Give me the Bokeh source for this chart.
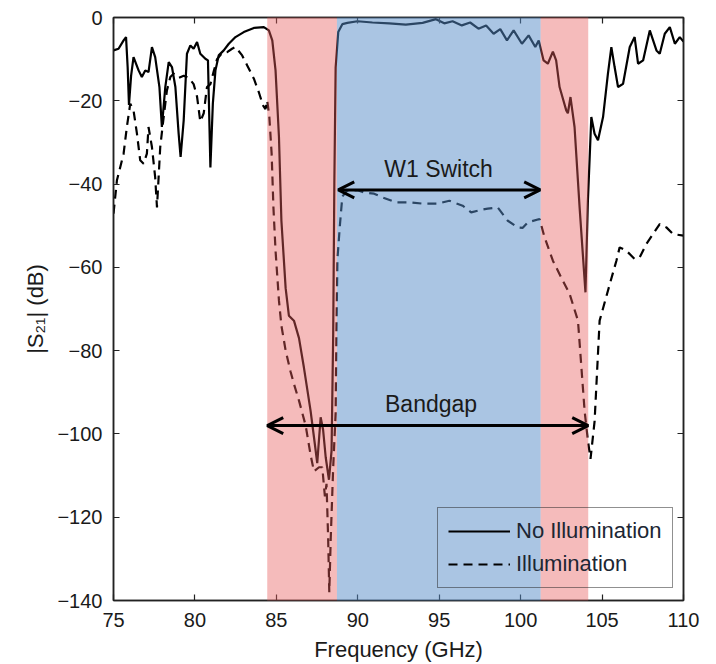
from bokeh.plotting import figure
from bokeh.models import (Range1d, LinearAxis, FixedTicker, Arrow, OpenHead, Label,
                          Legend, LegendItem, ColumnDataSource)
from bokeh.embed import file_html
from bokeh.resources import INLINE

# ---------------- data ----------------
freq_no_illum = [75.0, 75.31, 75.62, 75.77, 75.87, 75.95, 76.08, 76.23, 76.54, 76.74, 76.95, 77.15,
                 77.36, 77.56, 77.82, 77.97, 78.18, 78.39, 78.59, 78.80, 79.0, 79.12, 79.31, 79.51,
                 79.72, 79.92, 80.13, 80.33, 80.64, 80.80, 80.95, 81.10, 81.26, 81.46, 81.77, 82.08,
                 82.49, 83.0, 83.62, 84.23, 84.54, 84.75, 84.95, 85.16, 85.31, 85.57, 85.77, 86.08,
                 86.39, 86.69, 87.10, 87.31, 87.51, 87.72, 87.87, 88.03, 88.23, 88.39, 88.49, 88.56,
                 88.64, 88.80, 89.05, 89.36, 89.98, 90.90, 91.93, 92.95, 93.98, 94.80, 95.31, 95.82,
                 96.39, 96.90, 97.41, 97.88, 98.34, 98.75, 99.16, 99.57, 100.08, 100.49, 100.90,
                 101.11, 101.41, 101.67, 101.98, 102.18, 102.39, 102.80, 102.90, 103.06, 103.31,
                 103.62, 103.98, 104.13, 104.34, 104.54, 104.75, 105.06, 105.36, 105.57, 105.77,
                 105.98, 106.29, 106.70, 107.0, 107.21, 107.52, 107.93, 108.34, 108.54, 108.85,
                 109.16, 109.47, 109.77, 110.0]
s21_no_illum = [-7.9, -7.5, -5.5, -4.7, -12, -21, -14, -9.5, -12.7, -14.3, -12.7, -13.1,
                -7.1, -9.5, -16.7, -26.3, -16.7, -10.7, -11.9, -16.7, -27.9, -33.5, -24.7, -8.7,
                -6.7, -7.5, -5.9, -8.7, -9.9, -10.3, -36, -20.7, -12.7, -9.1, -7.9, -6.3,
                -4.7, -3.5, -2.5, -2.3, -3.1, -5.5, -12.7, -28.7, -48.8, -65, -71.6, -72.8,
                -77, -84, -94.4, -100.8, -107, -96, -99, -105.6, -111, -104, -76, -40,
                -12, -3.5, -1.6, -1.3, -0.9, -1.2, -1.4, -1.7, -1.3, -0.4, -1.4, -0.9,
                -1.9, -1.2, -2.7, -1.9, -3.9, -2.8, -5.5, -3.1, -6.3, -4.3, -7.1,
                -5.5, -10.3, -11.1, -8.2, -10.3, -16.7, -22.3, -23, -19.1, -26.3,
                -45.6, -66, -44, -23.9, -27.9, -29.5, -23.9, -13.5, -7.1, -11.9,
                -16.7, -15.9, -7.1, -4.7, -11.1, -10.3, -3.1, -7.9, -8.7, -3.9,
                -2.3, -6.3, -4.7, -5.8]

freq_illum = [75.0, 75.21, 75.62, 75.82, 76.03, 76.23, 76.44, 76.64, 76.85, 77.05, 77.15, 77.36,
              77.56, 77.67, 77.77, 77.87, 78.08, 78.28, 78.49, 78.69, 79.0, 79.31, 79.62, 79.92,
              80.13, 80.33, 80.54, 80.74, 80.95, 81.15, 81.36, 81.67, 81.98, 82.28, 82.49, 82.90,
              83.21, 83.62, 83.92, 84.18, 84.33, 84.44, 84.57, 84.71, 84.82, 84.95, 85.16, 85.31,
              85.57, 85.87, 86.08, 86.39, 86.80, 87.10, 87.31, 87.62, 87.82, 87.98, 88.08, 88.18,
              88.25, 88.34, 88.49, 88.64, 88.69, 88.75, 88.90, 89.05, 89.36, 89.98, 90.39, 91.0,
              91.52, 92.34, 93.26, 93.98, 94.91, 95.62, 96.44, 96.96, 97.57, 97.98, 98.59, 99.21,
              99.82, 100.13, 100.44, 101.16, 101.47, 101.98, 102.59, 103.0, 103.52, 103.93,
              104.13, 104.29, 104.54, 104.85, 105.36, 105.88, 106.08, 106.49, 107.0, 107.31,
              107.72, 108.13, 108.54, 108.95, 109.36, 110.0]
s21_illum = [-47.1, -39.1, -32.7, -26.3, -20.7, -22.3, -27.9, -34.3, -35.1, -32.7, -26.3, -31.1,
             -38.4, -45.6, -38.4, -31.1, -23.9, -17.5, -14.3, -13.5, -14.5, -14, -14.5, -16,
             -19, -25, -23, -16.7, -16, -13, -10, -8.5, -8.3, -7.5, -7.1, -9.1,
             -11.5, -14.7, -17.9, -21.1, -22, -19.9, -23.9, -32.7, -45.6, -56, -68, -74,
             -80, -85, -88, -92, -98, -105, -109, -108, -108, -115, -112, -125,
             -138, -125, -108, -95, -75, -58, -50, -43, -41.5, -41.5, -42, -42.3,
             -43.2, -44.4, -44.4, -44.7, -44.7, -44, -45.2, -46.8, -46.2, -45.9, -45.6, -48.8,
             -50.4, -50.5, -49.2, -48.4, -52.8, -58.4, -63.2, -66.3, -72.8, -94.6,
             -101.6, -106, -97, -72.8, -65.6, -58.4, -55.2, -56, -58, -57.6,
             -54.4, -52, -49.6, -50.4, -52, -52.4]

x_ticks = [75, 80, 85, 90, 95, 100, 105, 110]
y_ticks = [-140, -120, -100, -80, -60, -40, -20, 0]

band_left = [84.44, 88.72, 101.23]
band_right = [88.72, 101.23, 104.15]
band_color = ["#E85C5C", "#558CC8", "#E85C5C"]
band_alpha = [0.42, 0.5, 0.42]

bandgap_span = (84.44, 104.15)
bandgap_level = -98
switch_span = (88.8, 101.2)
switch_level = -41.4
bandgap_text_pos = (94.5, -92.7)
switch_text_pos = (94.96, -36.3)

FONT = "Liberation Sans"
TXT = "#1a1a1a"

# ---------------- figure ----------------
p = figure(frame_width=570, frame_height=583,
           x_range=Range1d(75, 110), y_range=Range1d(-140, 0),
           output_backend="svg", toolbar_location=None,
           min_border_left=113, min_border_right=22,
           min_border_top=17, min_border_bottom=62)
p.grid.visible = False
p.outline_line_color = "#222222"
p.outline_line_width = 1.5
p.background_fill_color = "white"
p.border_fill_color = "white"

r_no = p.line(freq_no_illum, s21_no_illum, line_color="black", line_width=2.2)
r_il = p.line(freq_illum, s21_illum, line_color="black", line_width=2.2, line_dash="9 6")

src_band = ColumnDataSource(dict(left=band_left, right=band_right,
                                 color=band_color, alpha=band_alpha))
p.quad(left="left", right="right", bottom=-140, top=0, source=src_band,
       fill_color="color", fill_alpha="alpha", line_color=None, level="annotation")

def style_axis(ax, ticks, show_labels):
    ax.ticker = FixedTicker(ticks=ticks)
    ax.major_tick_in = 6
    ax.major_tick_out = 0
    ax.minor_tick_line_color = None
    ax.axis_line_color = "#222222"
    ax.axis_line_width = 1.5
    ax.major_tick_line_color = "#222222"
    ax.major_tick_line_width = 1.2
    if show_labels:
        ax.major_label_text_font = FONT
        ax.major_label_text_font_size = "20px"
        ax.major_label_text_color = TXT
        ax.axis_label_text_font = FONT
        ax.axis_label_text_font_size = "22px"
        ax.axis_label_text_font_style = "normal"
        ax.axis_label_text_color = TXT
    else:
        ax.major_label_text_font_size = "1px"
        ax.major_label_text_color = None
        ax.major_label_standoff = 0

style_axis(p.xaxis[0], x_ticks, True)
style_axis(p.yaxis[0], y_ticks, True)
p.xaxis[0].axis_label = "Frequency (GHz)"
p.xaxis[0].major_label_standoff = 12
p.xaxis[0].axis_label_standoff = 7
p.yaxis[0].axis_label = "|S₂₁| (dB)"
p.yaxis[0].major_label_standoff = 11
p.yaxis[0].axis_label_standoff = 6

top_ax = LinearAxis()
right_ax = LinearAxis()
style_axis(top_ax, x_ticks, False)
style_axis(right_ax, y_ticks, False)
p.add_layout(top_ax, "above")
p.add_layout(right_ax, "right")

# arrows (drawn above the coloured bands)
for (x0, x1), yv in [(bandgap_span, bandgap_level), (switch_span, switch_level)]:
    p.add_layout(Arrow(x_start=x0, y_start=yv, x_end=x1, y_end=yv,
                       line_width=3, line_color="black", level="overlay",
                       start=OpenHead(size=16, line_width=3, line_color="black"),
                       end=OpenHead(size=16, line_width=3, line_color="black")))

p.add_layout(Label(x=switch_text_pos[0], y=switch_text_pos[1], text="W1 Switch",
                   text_align="center", text_baseline="middle", level="overlay",
                   text_font=FONT, text_font_size="23px", text_color=TXT))
p.add_layout(Label(x=bandgap_text_pos[0], y=bandgap_text_pos[1], text="Bandgap",
                   text_align="center", text_baseline="middle", level="overlay",
                   text_font=FONT, text_font_size="23px", text_color=TXT))

legend = Legend(items=[LegendItem(label="No Illumination", renderers=[r_no]),
                       LegendItem(label="Illumination", renderers=[r_il])],
                location=(324, 12), level="glyph")
legend.label_text_font = FONT
legend.label_text_font_size = "22px"
legend.label_text_color = "#1c2633"
legend.glyph_width = 62
legend.glyph_height = 22
legend.label_height = 22
legend.label_standoff = 6
legend.spacing = 7
legend.padding = 10
legend.border_line_color = "#222222"
legend.border_line_width = 1.5
legend.background_fill_alpha = 0.0
p.add_layout(legend)

open("out.html", "w").write(file_html(p, INLINE))
